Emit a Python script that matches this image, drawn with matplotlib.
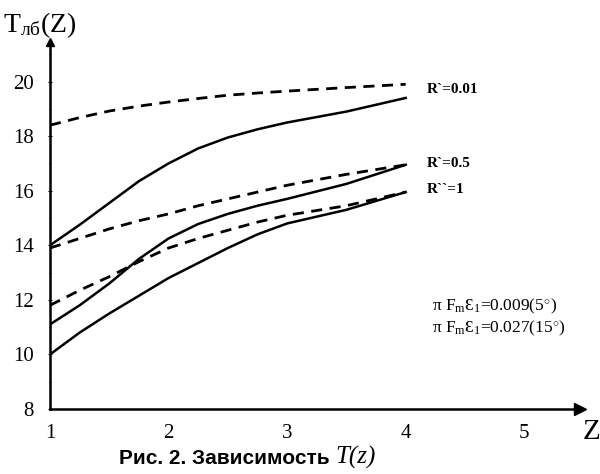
import numpy as np
import matplotlib.pyplot as plt

plt.rcParams['font.family'] = ['Liberation Serif', 'DejaVu Serif']
plt.rcParams['mathtext.fontset'] = 'custom'
plt.rcParams['mathtext.rm'] = 'Liberation Serif'
plt.rcParams['mathtext.it'] = 'Liberation Serif:italic'

z = [1, 1.25, 1.5, 1.75, 2, 2.25, 2.5, 2.75, 3, 3.5, 4]

# dashed curves
t_dash_001 = [18.4, 18.68, 18.92, 19.1, 19.25, 19.38, 19.5, 19.58, 19.65, 19.78, 19.9]
t_dash_05 = [13.9, 14.25, 14.6, 14.9, 15.15, 15.45, 15.7, 15.95, 16.2, 16.6, 16.95]
t_dash_1 = [11.8, 12.35, 12.85, 13.4, 13.9, 14.25, 14.55, 14.85, 15.1, 15.45, 15.95]

# solid curves
t_solid_001 = [14.0, 14.75, 15.55, 16.35, 17.0, 17.55, 17.95, 18.25, 18.5, 18.9, 19.4]
t_solid_05 = [11.1, 11.8, 12.6, 13.5, 14.25, 14.78, 15.15, 15.45, 15.7, 16.25, 16.95]
t_solid_1 = [10.0, 10.8, 11.5, 12.15, 12.8, 13.35, 13.9, 14.4, 14.8, 15.3, 15.95]

curve_labels = ["R`=0.01", "R`=0.5", "R``=1"]
label_y = [19.7, 17.0, 16.05]

x_ticks = [1, 2, 3, 4, 5]
y_ticks = [8, 10, 12, 14, 16, 18, 20]

fig = plt.figure(figsize=(6, 4.74), dpi=100)
ax = fig.add_axes([50/600, 1-409/474, 530/600, 367/474])

for y in [t_dash_001, t_dash_05, t_dash_1]:
    ax.plot(z, y, color='black', lw=2.0, dashes=(4, 2.7))
for y in [t_solid_001, t_solid_05, t_solid_1]:
    ax.plot(z, y, color='black', lw=1.8)

ax.set_xlim(1, 5.47)
ax.set_ylim(8, 21.45)

for sp in ['top', 'right']:
    ax.spines[sp].set_visible(False)
for sp in ['left', 'bottom']:
    ax.spines[sp].set_linewidth(1.8)

# arrow heads at the axis ends
ax.plot(0, 1, marker='^', color='black', ms=6, transform=ax.transAxes, clip_on=False)
ax.plot(1, 0, marker='>', color='black', ms=9, transform=ax.transAxes, clip_on=False)

ax.set_xticks(x_ticks)
ax.set_yticks(y_ticks)
ax.set_yticks(np.arange(8, 21.5, 1), minor=True)
ax.tick_params(axis='x', length=0, pad=11, labelsize=15)
ax.tick_params(axis='y', length=3, direction='inout', pad=10, labelsize=15)
ax.tick_params(axis='y', which='minor', length=2, direction='inout')

for lab, ly in zip(curve_labels, label_y):
    ax.text(4.18, ly, lab, fontsize=11, fontweight='bold', va='center', ha='left')

ax.text(4.22, 11.75, r"π F$_{\mathrm{m}}$Ɛ$_{1}$=0.009(5$^{\circ}$)", fontsize=12.5, va='center')
ax.text(4.22, 10.95, r"π F$_{\mathrm{m}}$Ɛ$_{1}$=0.027(15$^{\circ}$)", fontsize=12.5, va='center')

fig.text(3/600, 1-25/474, r"T$_{\mathrm{лб}}$(Z)", fontsize=20, va='center', ha='left')
fig.text(592/600, 1-432/474, "Z", fontsize=21, va='center', ha='center')

fig.text(335/600, 1-458/474, "Рис. 2. Зависимость ", family='Liberation Sans',
         fontweight='bold', fontsize=15, ha='right', va='center')
fig.text(335/600, 1-457/474, "T(z)", style='italic', fontsize=18, ha='left', va='center')

fig.savefig('out.png', dpi=100)
